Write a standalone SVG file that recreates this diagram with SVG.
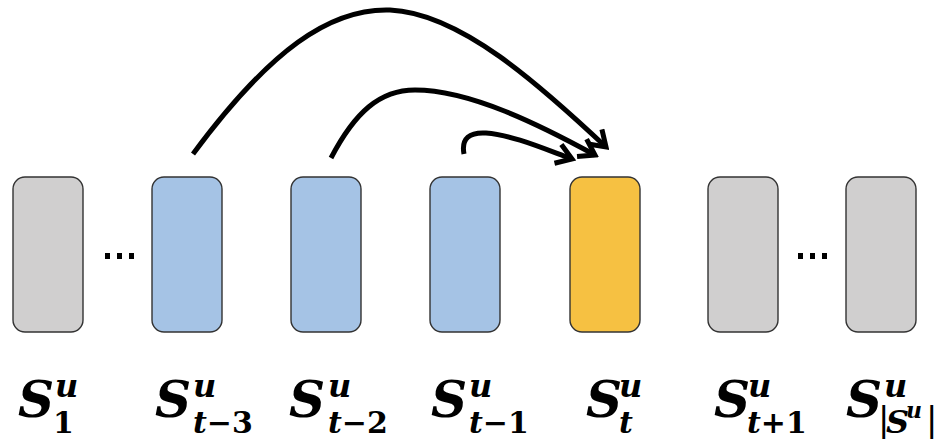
<svg xmlns="http://www.w3.org/2000/svg" width="943" height="440" viewBox="0 0 943 440">
  <style>
    .box { stroke: #333333; stroke-width: 1.4; }
    .gray { fill: #d0cfcf; }
    .blue { fill: #a5c3e5; }
    .gold { fill: #f6c142; }
    .dot { fill: #000000; }
    .arc { fill: none; stroke: #000000; stroke-width: 5; stroke-linecap: butt; }
    .lbl { font-family: "DejaVu Serif", "Liberation Serif", serif; font-weight: bold; fill: #000; }
    .big { font-style: italic; font-size: 50px; }
    .sup { font-style: italic; font-size: 32px; }
    .sub { font-style: normal; font-size: 30px; }
    .it { font-style: italic; }
    .bar { font-family: "DejaVu Sans", "Liberation Sans", sans-serif; font-weight: normal; font-style: normal; font-size: 34px; }
    .tiny { font-style: italic; font-size: 22px; }
  </style>
  <defs>
    <marker id="head" viewBox="-20 -12 24 24" markerWidth="24" markerHeight="24" refX="0" refY="0" orient="auto" markerUnits="userSpaceOnUse">
      <path d="M-15,-10 L0,0 L-15,10" fill="none" stroke="#000" stroke-width="5" stroke-linejoin="miter"/>
    </marker>
  </defs>

  <!-- sequence items -->
  <g id="s1"><rect class="box gray" x="13" y="177" width="70" height="155" rx="12"/></g>
  <g id="dots-left">
    <rect class="dot" x="105" y="253" width="5" height="6"/>
    <rect class="dot" x="117" y="253" width="5" height="6"/>
    <rect class="dot" x="129" y="253" width="5" height="6"/>
  </g>
  <g id="s-t-3"><rect class="box blue" x="152" y="177" width="70" height="155" rx="12"/></g>
  <g id="s-t-2"><rect class="box blue" x="291" y="177" width="70" height="155" rx="12"/></g>
  <g id="s-t-1"><rect class="box blue" x="430" y="177" width="70" height="155" rx="12"/></g>
  <g id="s-t"><rect class="box gold" x="570" y="177" width="70" height="155" rx="12"/></g>
  <g id="s-t+1"><rect class="box gray" x="708" y="177" width="70" height="155" rx="12"/></g>
  <g id="dots-right">
    <rect class="dot" x="798" y="253" width="5" height="6"/>
    <rect class="dot" x="810" y="253" width="5" height="6"/>
    <rect class="dot" x="822" y="253" width="5" height="6"/>
  </g>
  <g id="s-last"><rect class="box gray" x="846" y="177" width="70" height="155" rx="12"/></g>

  <!-- attention arcs into the current item -->
  <g id="connectors">
    <path class="arc" marker-end="url(#head)" d="M193,154 C270,50 330,8 390,10 C460,13 540,85 606,147"/>
    <path class="arc" marker-end="url(#head)" d="M331,158 C355,112 380,90 415,90 C470,90 540,125 595,155"/>
    <path class="arc" marker-end="url(#head)" d="M464,154 C461,138 470,132 486,133 C512,135 542,148 572,159"/>
  </g>

  <!-- labels: S with superscript u and a subscript index -->
  <g id="labels">
    <text class="lbl"><tspan class="big" x="18" y="417">S</tspan><tspan class="sup" x="55" y="397">u</tspan><tspan class="sub" x="53" y="433">1</tspan></text>
    <text class="lbl"><tspan class="big" x="155" y="417">S</tspan><tspan class="sup" x="193" y="397">u</tspan><tspan class="sub" x="193" y="433"><tspan class="it">t</tspan>−3</tspan></text>
    <text class="lbl"><tspan class="big" x="289" y="417">S</tspan><tspan class="sup" x="328" y="397">u</tspan><tspan class="sub" x="328" y="433"><tspan class="it">t</tspan>−2</tspan></text>
    <text class="lbl"><tspan class="big" x="431" y="417">S</tspan><tspan class="sup" x="469" y="397">u</tspan><tspan class="sub" x="469" y="433"><tspan class="it">t</tspan>−1</tspan></text>
    <text class="lbl"><tspan class="big" x="586" y="417">S</tspan><tspan class="sup" x="619" y="397">u</tspan><tspan class="sub it" x="619" y="433">t</tspan></text>
    <text class="lbl"><tspan class="big" x="714" y="417">S</tspan><tspan class="sup" x="748" y="397">u</tspan><tspan class="sub" x="747" y="433"><tspan class="it">t</tspan>+1</tspan></text>
    <text class="lbl"><tspan class="big" x="846" y="417">S</tspan><tspan class="sup" x="884" y="397">u</tspan><tspan class="bar" x="878" y="431">|</tspan><tspan class="sup" x="886" y="433">S</tspan><tspan class="tiny" x="906" y="418">u</tspan><tspan class="bar" x="926" y="431">|</tspan></text>
  </g>
</svg>
